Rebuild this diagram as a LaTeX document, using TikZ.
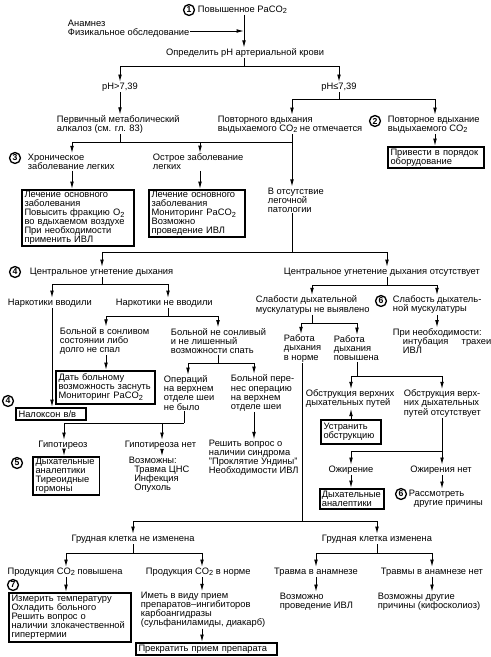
\documentclass[tikz,border=0pt]{standalone}
\usepackage{fontspec}
\setmainfont{Liberation Sans}
\usetikzlibrary{arrows.meta}
\newcommand\fs{\fontsize{7}{6.8}\selectfont}
\newcommand\subd[1]{\raisebox{-0.3ex}{\fontsize{5.5}{5}\selectfont #1}}
\begin{document}
\begin{tikzpicture}[x=0.75pt,y=-0.75pt,
  txt/.style={font=\fs, inner sep=0.5pt, align=left},
  ctr/.style={font=\fs, inner sep=0.5pt},
  box/.style={draw, line width=1.3pt, font=\fs, align=left, inner xsep=2pt, inner ysep=1pt, anchor=north west},
  num/.style={circle, draw, line width=1pt, inner sep=0pt, minimum size=8.2pt, font=\fontsize{6.5}{6.5}\selectfont\bfseries},
  ln/.style={line width=0.7pt},
  arr/.style={line width=0.7pt, -{Latex[length=5.5pt,width=2.8pt]}},
]
\fill[white] (0,0) rectangle (491,657);
\useasboundingbox (0,0) rectangle (491,657);

% top
\node[num] (c1) at (189,10) {1};
\node[txt, anchor=west] (t1) at (197,10) {Повышенное PaCO\subd{2}};
\node[txt, anchor=west] (anam) at (67,28.5) {Анамнез\\Физикальное обследование};
\node[ctr] (opr) at (245,53) {Определить pH артериальной крови};
\coordinate (v1) at (244,31);
\draw[arr] (t1.south -| v1) -- (opr.north -| v1);
\draw[arr] (anam.east |- v1) -- (v1);

\coordinate (b1) at (244,66);
\coordinate (b1l) at (120,66); \coordinate (b1r) at (339,66);
\node[ctr] (phA) at (120,87) {pH>7,39};
\node[ctr] (phB) at (339,87) {pH≤7,39};
\draw[ln] (opr.south -| b1) -- (b1);
\draw[ln] (b1l) -- (b1r);
\draw[arr] (b1l) -- (phA.north -| b1l);
\draw[arr] (b1r) -- (phB.north -| b1r);

\node[txt, anchor=west] (alk) at (56,124.5) {Первичный метаболический\\алкалоз (см. гл. 83)};
\draw[arr] (phA.south -| b1l) -- (alk.north -| b1l);

\coordinate (b2l) at (292,99); \coordinate (b2r) at (435,99);
\draw[ln] (phB.south -| b1r) -- (b1r |- b2l);
\draw[ln] (b2l) -- (b2r);
\node[txt, anchor=west] (norb) at (217,124.5) {Повторного вдыхания\\выдыхаемого CO\subd{2} не отмечается};
\node[num] (c2) at (375,121) {2};
\node[txt, anchor=west] (rebr) at (387,124.5) {Повторное вдыхание\\выдыхаемого CO\subd{2}};
\draw[arr] (b2l) -- (norb.north -| b2l);
\draw[arr] (b2r) -- (rebr.north -| b2r);
\node[box, minimum height=15.75pt, text width=68pt] (bE) at (387,146) {Привести в порядок\\оборудование};
\draw[arr] (rebr.south -| b2r) -- (bE.north -| b2r);

\coordinate (b3l) at (72,142); \coordinate (b3m) at (200,142); \coordinate (b3r) at (292,142);
\draw[ln] (alk.south -| b1l) -- (b1l |- b3l);
\draw[ln] (b3l) -- (b3r);
\draw[ln] (norb.south -| b3r) -- (b3r);
\node[num] (c3) at (15,158) {3};
\node[txt, anchor=west] (chr) at (27,162) {Хроническое\\заболевание легких};
\node[txt, anchor=west] (acu) at (152,162) {Острое заболевание\\легких};
\draw[arr] (b3l) -- (chr.north -| b3l);
\draw[arr] (b3m) -- (acu.north -| b3m);
\node[box, minimum height=40.5pt, text width=80pt] (bA) at (21,189) {Лечение основного\\заболевания\\Повысить фракцию O\subd{2}\\во вдыхаемом воздухе\\При необходимости\\применить ИВЛ};
\node[box, minimum height=35.25pt, text width=68pt] (bB) at (148,189) {Лечение основного\\заболевания\\Мониторинг PaCO\subd{2}\\Возможно\\проведение ИВЛ};
\draw[arr] (chr.south -| b3l) -- (bA.north -| b3l);
\draw[arr] (acu.south -| b3m) -- (bB.north -| b3m);
\node[txt, anchor=west] (nop) at (267,200) {В отсутствие\\легочной\\патологии};
\draw[arr] (b3r) -- (nop.north -| b3r);

\coordinate (b4l) at (102,252); \coordinate (b4m) at (292,252); \coordinate (b4r) at (387,252);
\draw[ln] (nop.south -| b4m) -- (b4m);
\draw[ln] (b4l) -- (b4r);
\node[num] (c4) at (15,272) {4};
\node[txt, anchor=west] (cd) at (29,272) {Центральное угнетение дыхания};
\node[txt, anchor=west] (cnd) at (283,272) {Центральное угнетение дыхания отсутствует};
\draw[arr] (b4l) -- (cd.north -| b4l);
\draw[arr] (b4r) -- (cnd.north -| b4r);

% left middle
\coordinate (b5l) at (52,284); \coordinate (b5r) at (168,284);
\draw[ln] (cd.south -| b4l) -- (b4l |- b5l);
\draw[ln] (b5l) -- (b5r);
\node[txt, anchor=west] (n1) at (7,303) {Наркотики вводили};
\node[txt, anchor=west] (n2) at (115,303) {Наркотики не вводили};
\draw[arr] (b5l) -- (n1.north -| b5l);
\draw[arr] (b5r) -- (n2.north -| b5r);
\node[num] (c4b) at (8,401) {4};
\node[box, minimum height=9pt, text width=48.5pt] (nal) at (15,407) {Налоксон в/в};
\draw[arr] (n1.south -| b5l) -- (nal.north -| b5l);

\coordinate (b6l) at (106,316); \coordinate (b6r) at (218,316);
\draw[ln] (n2.south -| b5r) -- (b5r |- b6l);
\draw[ln] (b6l) -- (b6r);
\node[txt, anchor=west] (sl) at (59,341) {Больной в сонливом\\состоянии либо\\долго не спал};
\node[txt, anchor=west] (nsl) at (170,341) {Больной не сонливый\\и не лишенный\\возможности спать};
\draw[arr] (b6l) -- (sl.north -| b6l);
\draw[arr] (b6r) -- (nsl.north -| b6r);
\node[box, minimum height=24.75pt, text width=70.5pt] (bS) at (55,370) {Дать больному\\возможность~заснуть\\Мониторинг PaCO\subd{2}};
\draw[arr] (sl.south -| b6l) -- (bS.north -| b6l);

\coordinate (b7l) at (188,363); \coordinate (b7r) at (254,363);
\draw[ln] (nsl.south -| b6r) -- (b6r |- b7l);
\draw[ln] (b7l) -- (b7r);
\node[txt, anchor=west] (nop2) at (163,393) {Операций\\на верхнем\\отделе шеи\\не было};
\node[txt, anchor=west] (op) at (230,393) {Больной пере-\\нес операцию\\на верхнем\\отделе шеи};
\draw[arr] (b7l) -- (nop2.north -| b7l);
\draw[arr] (b7r) -- (op.north -| b7r);

\coordinate (b8) at (184,423); \coordinate (b8l) at (64,423); \coordinate (b8m) at (162,423);
\draw[ln] (nop2.south -| b8) -- (b8);
\draw[ln] (b8l) -- (b8);
\node[ctr] (hy) at (63,445) {Гипотиреоз};
\node[txt, anchor=west] (nhy) at (124,445) {Гипотиреоза нет};
\draw[arr] (b8l) -- (hy.north -| b8l);
\draw[arr] (b8m) -- (nhy.north -| b8m);
\node[num] (c5) at (17,463) {5};
\node[box, minimum height=28.5pt, text width=46pt] (bH) at (32,456) {Дыхательные\\аналептики\\Тиреоидные\\гормоны};
\draw[arr] (hy.south -| b8l) -- (bH.north -| b8l);
\node[txt, anchor=west] (pos) at (128,475) {Возможны:\\\hspace*{4pt}Травма ЦНС\\\hspace*{4pt}Инфекция\\\hspace*{4pt}Опухоль};
\draw[arr] (nhy.south -| b8m) -- (pos.north -| b8m);

\node[txt, anchor=west] (resh) at (208,458) {Решить вопрос о\\наличии синдрома\\"Проклятие Ундины"\\Необходимости ИВЛ};
\draw[arr] (op.south -| b7r) -- (resh.north -| b7r);

% right middle
\coordinate (b9) at (387,285); \coordinate (b9l) at (312,285); \coordinate (b9r) at (437,285);
\draw[ln] (cnd.south -| b9) -- (b9);
\draw[ln] (b9l) -- (b9r);
\node[txt, anchor=west] (nw) at (255,305) {Слабости дыхательной\\мускулатуры не выявлено};
\node[num] (c6) at (381,301) {6};
\node[txt, anchor=west] (wk) at (392,305) {Слабость дыхатель-\\ной мускулатуры};
\draw[arr] (b9l) -- (nw.north -| b9l);
\draw[arr] (b9r) -- (wk.north -| b9r);
\node[txt, anchor=west] (int) at (392,341) {При необходимости:\\\hspace*{7.5pt}интубация\hspace{10pt}трахеи\\\hspace*{7.5pt}ИВЛ};
\draw[arr] (wk.south -| b9r) -- (int.north -| b9r);

\coordinate (b10) at (312,323); \coordinate (b10l) at (301,323); \coordinate (b10r) at (357,323);
\draw[ln] (nw.south -| b10) -- (b10);
\draw[ln] (b10l) -- (b10r);
\node[txt, anchor=west] (wn) at (283,348.5) {Работа\\дыхания\\в норме};
\node[txt, anchor=west] (wh) at (333,348.5) {Работа\\дыхания\\повышена};
\draw[arr] (b10l) -- (wn.north -| b10l);
\draw[arr] (b10r) -- (wh.north -| b10r);

\coordinate (b13m) at (302,521);
\draw[ln] (wn.south -| b13m) -- (b13m);

\coordinate (b11) at (357,376); \coordinate (b11l) at (351,376); \coordinate (b11r) at (442,376);
\draw[ln] (wh.south -| b11) -- (b11);
\draw[ln] (b11l) -- (b11r);
\node[txt, anchor=west] (ob) at (305,399) {Обструкция верхних\\дыхательных путей};
\node[txt, anchor=west] (nob) at (403,403.5) {Обструкция верх-\\них дыхательных\\путей отсутствует};
\draw[arr] (b11l) -- (ob.north -| b11l);
\draw[arr] (b11r) -- (nob.north -| b11r);
\node[box, minimum height=18pt, text width=41pt] (bU) at (320,419) {Устранить\\обструкцию};
\draw[arr] (bU.north -| b11l) -- (ob.south -| b11l);

\coordinate (b12l) at (351,451); \coordinate (b12r) at (442,451);
\draw[ln] (nob.south -| b12r) -- (b12r);
\draw[ln] (b12l) -- (b12r);
\node[ctr] (obe) at (351,470) {Ожирение};
\node[ctr] (nobe) at (441,470) {Ожирения нет};
\draw[arr] (b12l) -- (obe.north -| b12l);
\draw[arr] (b12r) -- (nobe.north -| b12r);
\node[box, minimum height=15pt, text width=45pt, inner xsep=1.5pt] (bD) at (319,488) {Дыхательные\\аналептики};
\draw[arr] (obe.south -| b12l) -- (bD.north -| b12l);
\node[num] (c6b) at (401,494) {6};
\node[txt, anchor=west] (oth) at (408,498.5) {Рассмотреть\\\hspace*{3.75pt}другие причины};
\draw[arr] (nobe.south -| b12r) -- (oth.north -| b12r);

% bottom
\coordinate (b13l) at (133,521); \coordinate (b13r) at (377,521);
\draw[ln] (b13l) -- (b13r);
\node[ctr] (chN) at (133,539) {Грудная клетка не изменена};
\node[ctr] (chC) at (377,539) {Грудная клетка изменена};
\draw[arr] (b13l) -- (chN.north -| b13l);
\draw[arr] (b13r) -- (chC.north -| b13r);

\coordinate (b14l) at (66,553); \coordinate (b14r) at (202,553);
\draw[ln] (chN.south -| b13l) -- (b13l |- b14l);
\draw[ln] (b14l) -- (b14r);
\node[ctr] (pu) at (65,572) {Продукция CO\subd{2} повышена};
\node[txt, anchor=west] (pn) at (145,572) {Продукция CO\subd{2} в норме};
\draw[arr] (b14l) -- (pu.north -| b14l);
\draw[arr] (b14r) -- (pn.north -| b14r);
\node[num] (c7) at (13,585) {7};
\node[box, minimum height=36.75pt, text width=87.5pt] (bT) at (8,592) {Измерить температуру\\Охладить больного\\Решить вопрос о\\наличии злокачественной\\гипертермии};
\draw[arr] (pu.south -| b14l) -- (bT.north -| b14l);
\node[txt, anchor=west] (dr) at (140,610) {Иметь в виду прием\\препаратов–ингибиторов\\карбоангидразы\\(сульфаниламиды, диакарб)};
\draw[arr] (pn.south -| b14r) -- (dr.north -| b14r);
\node[box, minimum height=9pt, text width=101.75pt] (bP) at (135,642) {Прекратить прием препарата};
\draw[arr] (dr.south -| b14r) -- (bP.north -| b14r);

\coordinate (b15l) at (316,553); \coordinate (b15r) at (432,553);
\draw[ln] (chC.south -| b13r) -- (b13r |- b15l);
\draw[ln] (b15l) -- (b15r);
\node[ctr] (ty) at (316,572) {Травма в анамнезе};
\node[ctr] (tn) at (432,572) {Травмы в анамнезе нет};
\draw[arr] (b15l) -- (ty.north -| b15l);
\draw[arr] (b15r) -- (tn.north -| b15r);
\node[txt, anchor=west] (iv) at (279,601.5) {Возможно\\проведение ИВЛ};
\node[txt, anchor=west] (ot2) at (377,601.5) {Возможны другие\\причины (кифосколиоз)};
\draw[arr] (ty.south -| b15l) -- (iv.north -| b15l);
\draw[arr] (tn.south -| b15r) -- (ot2.north -| b15r);
\end{tikzpicture}
\end{document}
